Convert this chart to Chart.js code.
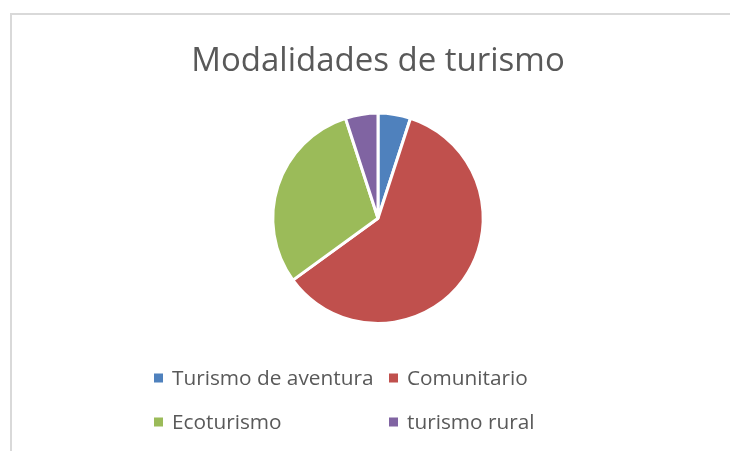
<!DOCTYPE html>
<html>
<head>
<meta charset="utf-8">
<title>Modalidades de turismo</title>
<script src="https://cdn.jsdelivr.net/npm/chart.js@4.4.1/dist/chart.umd.min.js"></script>
<style>
  html, body { margin: 0; padding: 0; background: #ffffff; }
  #frame {
    position: absolute; left: 10px; top: 13px; width: 730px; height: 450px;
    border-top: 2px solid #d9d9d9; border-left: 2px solid #d9d9d9;
  }
  #wrap { position: absolute; left: 0; top: 0; width: 730px; height: 451px; }
</style>
</head>
<body>
<div id="frame"></div>
<div id="wrap"><canvas id="chart" width="730" height="451"></canvas></div>
<script>
// Tourism types and their share
const categories = ['Turismo de aventura', 'Comunitario', 'Ecoturismo', 'turismo rural'];
const shares = [5, 60, 30, 5];
const sliceColors = ['#4F81BD', '#C0504D', '#9BBB59', '#8064A2'];

const TEXT_COLOR = '#595959';
const FONT = '"Open Sans", "DejaVu Sans", sans-serif';

// Two-column legend below the pie, columns aligned like a grid
const gridLegend = {
  id: 'gridLegend',
  afterDraw(chart) {
    const ctx = chart.ctx;
    const ds = chart.data.datasets[0];
    const colX = [154, 389];
    const rowY = [378, 422];
    const box = 9;
    ctx.save();
    ctx.font = '20.8px ' + FONT;
    ctx.textBaseline = 'middle';
    ctx.textAlign = 'left';
    chart.data.labels.forEach((label, i) => {
      const x = colX[i % 2];
      const y = rowY[Math.floor(i / 2)];
      ctx.fillStyle = ds.backgroundColor[i];
      ctx.fillRect(x, y - box / 2, box, box);
      ctx.fillStyle = TEXT_COLOR;
      ctx.fillText(label, x + 18, y + 1);
    });
    ctx.restore();
  }
};

new Chart(document.getElementById('chart'), {
  type: 'pie',
  data: {
    labels: categories,
    datasets: [{
      data: shares,
      backgroundColor: sliceColors,
      borderColor: '#ffffff',
      borderWidth: 3
    }]
  },
  options: {
    responsive: false,
    animation: false,
    layout: { padding: { top: 0, left: 26, right: 0, bottom: 126 } },
    plugins: {
      legend: { display: false },
      tooltip: { enabled: false },
      title: {
        display: true,
        text: 'Modalidades de turismo',
        color: TEXT_COLOR,
        font: { family: FONT, size: 33, weight: 'normal' },
        padding: { top: 42, bottom: 30 }
      }
    }
  },
  plugins: [gridLegend]
});
</script>
</body>
</html>
